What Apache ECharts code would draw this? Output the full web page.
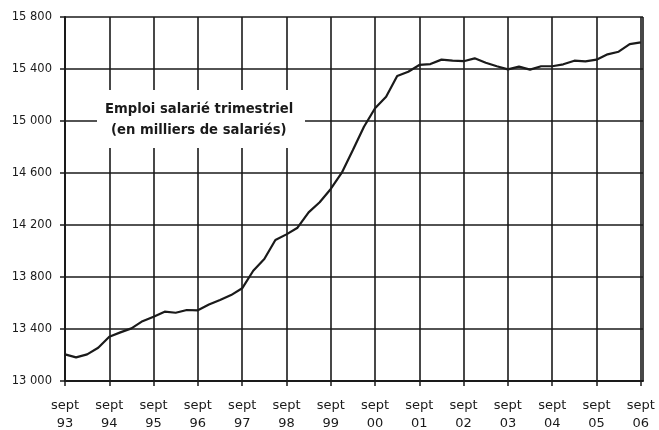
<!DOCTYPE html>
<html>
<head>
<meta charset="utf-8">
<script src="https://cdn.jsdelivr.net/npm/echarts@6/dist/echarts.min.js"></script>
<style>html,body{margin:0;padding:0;background:#fff;}#c{width:659px;height:430px;}</style>
</head>
<body>
<div id="c"></div>
<script>
const years = ['93','94','95','96','97','98','99','00','01','02','03','04','05','06'];
const yTicks = [13000, 13400, 13800, 14200, 14600, 15000, 15400, 15800];
const emploi = [
  13205, 13182, 13205, 13256,
  13341, 13374, 13405, 13460,
  13495, 13533, 13525, 13546,
  13544, 13588, 13623, 13661,
  13713, 13848, 13938, 14085,
  14128, 14179, 14297, 14375,
  14477, 14602, 14777, 14956,
  15098, 15187, 15346, 15379,
  15431, 15438, 15472, 15465,
  15460, 15482, 15448, 15421,
  15397, 15418, 15395, 15421,
  15421, 15436, 15464, 15459,
  15472, 15513, 15533, 15592,
  15605
];
const titleLines = ['Emploi salarié trimestriel', '(en milliers de salariés)'];

const font = 'DejaVu Sans';
const chart = echarts.init(document.getElementById('c'), null, {renderer: 'canvas'});
chart.setOption({
  animation: false,
  backgroundColor: '#fff',
  grid: {left: 65, right: 16, top: 17, bottom: 49, containLabel: false, outerBoundsMode: 'none'},
  xAxis: {
    type: 'value', min: 0, max: 52.2, interval: 4,
    axisLine: {show: true, lineStyle: {color: '#1a1a1a', width: 2}},
    axisTick: {show: true, length: 5, lineStyle: {color: '#1a1a1a', width: 1.5}},
    splitLine: {show: true, lineStyle: {color: '#1a1a1a', width: 1.6}},
    axisLabel: {
      color: '#1a1a1a', fontFamily: font, fontSize: 13, lineHeight: 18, margin: 16,
      showMaxLabel: false,
      formatter: v => (Math.abs(v % 4) < 1e-9 && years[v / 4] !== undefined) ? 'sept\n' + years[v / 4] : ''
    }
  },
  yAxis: {
    type: 'value', min: yTicks[0], max: yTicks[yTicks.length - 1], interval: yTicks[1] - yTicks[0],
    axisLine: {show: true, lineStyle: {color: '#1a1a1a', width: 2}},
    axisTick: {show: true, length: 5, lineStyle: {color: '#1a1a1a', width: 1.5}},
    splitLine: {show: true, lineStyle: {color: '#1a1a1a', width: 1.6}},
    axisLabel: {
      color: '#1a1a1a', fontFamily: font, fontSize: 11.5, margin: 13,
      formatter: v => String(v).replace(/\B(?=(\d{3})+(?!\d))/g, ' ')
    }
  },
  series: [{
    type: 'line',
    data: emploi.map((v, i) => [i, v]),
    showSymbol: false,
    lineStyle: {color: '#1a1a1a', width: 2.2},
    z: 5
  }],
  graphic: [
    {type: 'rect', left: 97, top: 90, z: 100, shape: {width: 208, height: 58}, style: {fill: '#fff'}},
    {type: 'text', z: 101, top: 103, left: 105,
     style: {text: titleLines[0], fill: '#1a1a1a', font: 'bold 13.2px "DejaVu Sans"'}},
    {type: 'text', z: 101, top: 124, left: 111,
     style: {text: titleLines[1], fill: '#1a1a1a', font: 'bold 13.2px "DejaVu Sans"'}}
  ]
});
</script>
</body>
</html>
